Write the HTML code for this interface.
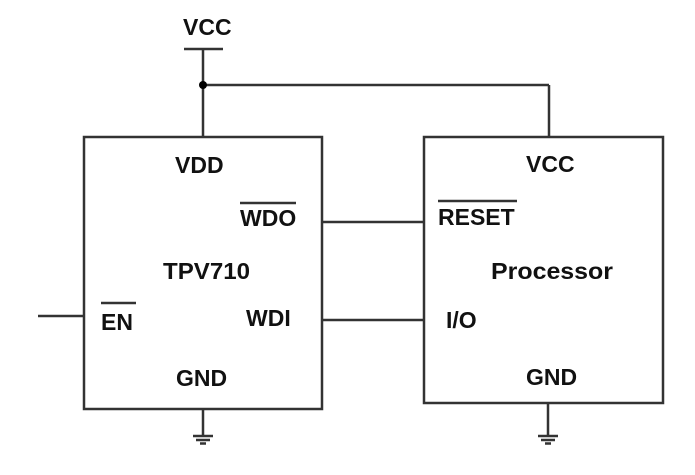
<!DOCTYPE html>
<html><head><style>body{margin:0;background:#fff}</style></head><body>
<svg width="695" height="475" xmlns="http://www.w3.org/2000/svg" style="display:block">
<g stroke="#333" stroke-width="2.5" fill="none">
<rect x="84" y="137" width="238" height="272"/>
<rect x="424" y="137" width="239" height="266"/>
<line x1="184" y1="49" x2="223" y2="49"/>
<line x1="203" y1="49" x2="203" y2="137"/>
<line x1="203" y1="85" x2="549" y2="85"/>
<line x1="549" y1="85" x2="549" y2="137"/>
<line x1="322" y1="222" x2="424" y2="222"/>
<line x1="322" y1="320" x2="424" y2="320"/>
<line x1="38" y1="316" x2="84" y2="316"/>
<line x1="203" y1="409" x2="203" y2="436"/>
<line x1="548" y1="403" x2="548" y2="436"/>
<line x1="193" y1="436" x2="213" y2="436"/>
<line x1="196" y1="440" x2="210" y2="440"/>
<line x1="200" y1="443.5" x2="206" y2="443.5"/>
<line x1="538" y1="436" x2="558" y2="436"/>
<line x1="541" y1="440" x2="555" y2="440"/>
<line x1="545" y1="443.5" x2="551" y2="443.5"/>
<line x1="240" y1="203" x2="296" y2="203"/>
<line x1="438" y1="201" x2="517" y2="201"/>
<line x1="101" y1="303" x2="136" y2="303"/>
</g>
<circle cx="203" cy="85" r="4" fill="#000"/>
<g font-family="Liberation Sans, sans-serif" font-weight="bold" font-size="23" fill="#111">
<text x="183" y="35">VCC</text>
<text x="175" y="173">VDD</text>
<text x="240" y="226">WDO</text>
<text x="163" y="279" textLength="87" lengthAdjust="spacingAndGlyphs">TPV710</text>
<text x="101" y="330">EN</text>
<text x="246" y="326">WDI</text>
<text x="176" y="386">GND</text>
<text x="526" y="172">VCC</text>
<text x="438" y="225">RESET</text>
<text x="491" y="279" textLength="122" lengthAdjust="spacingAndGlyphs">Processor</text>
<text x="446" y="328">I/O</text>
<text x="526" y="385">GND</text>
</g>
</svg>
</body></html>
